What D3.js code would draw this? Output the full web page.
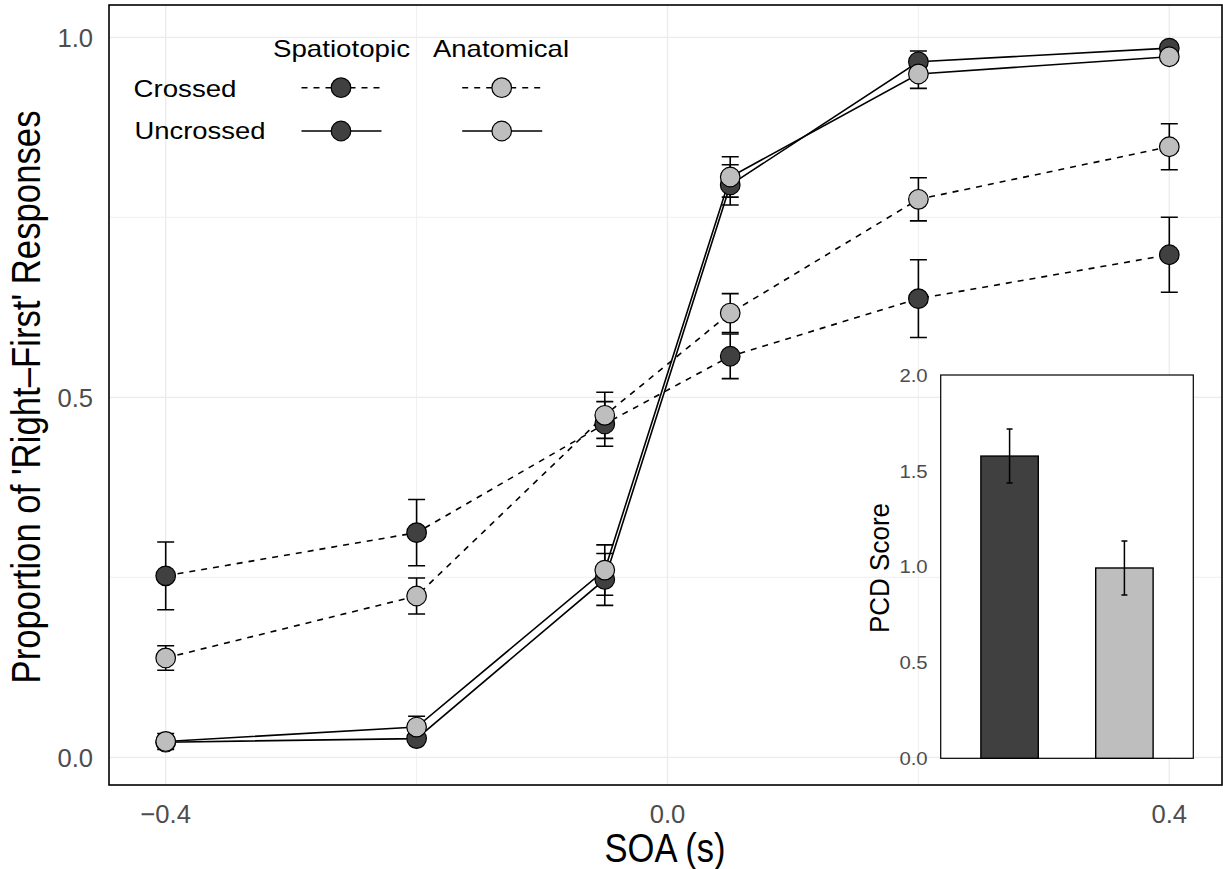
<!DOCTYPE html>
<html>
<head>
<meta charset="utf-8">
<script src="https://d3js.org/d3.v7.min.js"></script>
<style>
body { margin: 0; background: #fff; }
text { font-family: "Liberation Sans", Arial, Helvetica, sans-serif; }
.grid { stroke: #ebebeb; }
.tick-label { fill: #4d4d4d; }
</style>
</head>
<body>
<script>
// data
var soa = [-0.4, -0.2, -0.05, 0.05, 0.2, 0.4];
var spatCrossed     = [0.252, 0.312, 0.463, 0.557, 0.637, 0.698];
var spatCrossedSE   = [0.047, 0.046, 0.031, 0.031, 0.054, 0.052];
var anatCrossed     = [0.138, 0.224, 0.475, 0.617, 0.775, 0.848];
var anatCrossedSE   = [0.017, 0.025, 0.032, 0.027, 0.030, 0.032];
var spatUncrossed   = [0.021, 0.026, 0.247, 0.795, 0.966, 0.985];
var spatUncrossedSE = [0.005, 0.005, 0.036, 0.028, 0.015, 0.005];
var anatUncrossed   = [0.022, 0.042, 0.260, 0.806, 0.949, 0.973];
var anatUncrossedSE = [0.011, 0.015, 0.035, 0.028, 0.020, 0.005];

var xTicks = [-0.4, 0.0, 0.4];
var xGrid = [-0.4, -0.2, 0.0, 0.2, 0.4];
var yTicks = [0.0, 0.5, 1.0];
var yGrid = [0, 0.25, 0.5, 0.75, 1.0];

var pcdGroups = ["Spatiotopic", "Anatomical"];
var pcdScore = [1.577, 0.993];
var pcdSE = [0.141, 0.141];
var pcdTicks = [0, 0.5, 1.0, 1.5, 2.0];

var dark = "#404040", light = "#bebebe";

var series = [
  {name: "spatCrossed", y: spatCrossed, se: spatCrossedSE, fill: dark, dash: "6,6"},
  {name: "spatUncrossed", y: spatUncrossed, se: spatUncrossedSE, fill: dark, dash: null},
  {name: "anatCrossed", y: anatCrossed, se: anatCrossedSE, fill: light, dash: "6,6"},
  {name: "anatUncrossed", y: anatUncrossed, se: anatUncrossedSE, fill: light, dash: null}
];

var width = 1223, height = 869;
var panel = {left: 109, top: 5, right: 1222, bottom: 785};

var svg = d3.select("body").append("svg")
    .attr("width", width)
    .attr("height", height);

var x = d3.scaleLinear().domain([-0.4, 0.4]).range([165.7, 1169.3]);
var y = d3.scaleLinear().domain([0, 1]).range([757.3, 37.3]);

// grid
svg.append("g").selectAll("line").data(yGrid).enter().append("line")
    .attr("class", "grid")
    .attr("x1", panel.left).attr("x2", panel.right)
    .attr("y1", d => y(d)).attr("y2", d => y(d))
    .attr("stroke-width", d => (d * 2) % 1 === 0 ? 1.3 : 0.8);
svg.append("g").selectAll("line").data(xGrid).enter().append("line")
    .attr("class", "grid")
    .attr("y1", panel.top).attr("y2", panel.bottom)
    .attr("x1", d => x(d)).attr("x2", d => x(d))
    .attr("stroke-width", d => Math.abs(d) === 0.2 ? 0.8 : 1.3);

// axis labels
svg.append("g").selectAll("text").data(yTicks).enter().append("text")
    .attr("class", "tick-label")
    .attr("x", 93).attr("y", d => y(d))
    .attr("dy", "0.36em")
    .attr("text-anchor", "end")
    .style("font-size", "25.6px")
    .text(d => d3.format(".1f")(d));
svg.append("g").selectAll("text").data(xTicks).enter().append("text")
    .attr("class", "tick-label")
    .attr("x", d => x(d)).attr("y", 823.3)
    .attr("text-anchor", "middle")
    .style("font-size", "25.6px")
    .text(d => d3.format(".1f")(d).replace("-", "\u2212"));

svg.append("text")
    .attr("x", 665).attr("y", 861.7)
    .attr("text-anchor", "middle")
    .attr("textLength", 121).attr("lengthAdjust", "spacingAndGlyphs")
    .style("font-size", "40px")
    .text("SOA (s)");
svg.append("text")
    .attr("transform", "translate(40,397) rotate(-90)")
    .attr("text-anchor", "middle")
    .attr("textLength", 573).attr("lengthAdjust", "spacingAndGlyphs")
    .style("font-size", "40px")
    .text("Proportion of 'Right\u2013First' Responses");

// error bars
var capW = 8.5;
var eb = svg.append("g");
series.forEach(function(s) {
  soa.forEach(function(v, i) {
    var lo = y(s.y[i] - s.se[i]), hi = y(s.y[i] + s.se[i]), cx = x(v);
    eb.append("path")
      .attr("d", "M" + (cx - capW) + "," + hi + "H" + (cx + capW) +
                 "M" + cx + "," + hi + "V" + lo +
                 "M" + (cx - capW) + "," + lo + "H" + (cx + capW))
      .attr("fill", "none").attr("stroke", "#000").attr("stroke-width", 1.6);
  });
});

// lines
var line = d3.line().x((d, i) => x(soa[i])).y(d => y(d));
svg.append("g").selectAll("path").data(series).enter().append("path")
    .attr("d", d => line(d.y))
    .attr("fill", "none")
    .attr("stroke", "#000")
    .attr("stroke-width", 1.6)
    .attr("stroke-dasharray", d => d.dash);

// points
series.forEach(function(s) {
  svg.append("g").selectAll("circle").data(s.y).enter().append("circle")
    .attr("cx", (d, i) => x(soa[i]))
    .attr("cy", d => y(d))
    .attr("r", 9.8)
    .attr("fill", s.fill)
    .attr("stroke", "#000")
    .attr("stroke-width", 1.2);
});

// panel border
svg.append("rect")
    .attr("x", panel.left).attr("y", panel.top)
    .attr("width", panel.right - panel.left).attr("height", panel.bottom - panel.top)
    .attr("fill", "none").attr("stroke", "#000").attr("stroke-width", 1.6);

// legend
var leg = svg.append("g");
leg.append("text").attr("x", 341.5).attr("y", 56.7).attr("text-anchor", "middle")
    .attr("textLength", 137).attr("lengthAdjust", "spacingAndGlyphs")
    .style("font-size", "24px").text("Spatiotopic");
leg.append("text").attr("x", 501).attr("y", 56.7).attr("text-anchor", "middle")
    .attr("textLength", 136).attr("lengthAdjust", "spacingAndGlyphs")
    .style("font-size", "24px").text("Anatomical");
leg.append("text").attr("x", 133.5).attr("y", 97.3)
    .attr("textLength", 103).attr("lengthAdjust", "spacingAndGlyphs")
    .style("font-size", "24px").text("Crossed");
leg.append("text").attr("x", 134.5).attr("y", 139)
    .attr("textLength", 131).attr("lengthAdjust", "spacingAndGlyphs")
    .style("font-size", "24px").text("Uncrossed");

var keyCols = [341, 501.7], keyRows = [87.7, 131];
var keys = [
  {col: 0, row: 0, s: series[0]}, {col: 1, row: 0, s: series[2]},
  {col: 0, row: 1, s: series[1]}, {col: 1, row: 1, s: series[3]}
];
keys.forEach(function(k) {
  var cx = keyCols[k.col], cy = keyRows[k.row];
  leg.append("line")
    .attr("x1", cx - 39.5).attr("x2", cx + 40.5).attr("y1", cy).attr("y2", cy)
    .attr("stroke", "#000").attr("stroke-width", 1.6)
    .attr("stroke-dasharray", k.s.dash);
  leg.append("circle").attr("cx", cx).attr("cy", cy).attr("r", 9.8)
    .attr("fill", k.s.fill).attr("stroke", "#000").attr("stroke-width", 1.2);
});

// inset bar chart
var inset = {left: 940.7, top: 375, right: 1193.3, bottom: 758.3};
var xb = d3.scalePoint().domain(pcdGroups).range([inset.left, inset.right]).padding(0.6);
var yb = d3.scaleLinear().domain([0, 2]).range([inset.bottom, inset.top]);
var barW = xb.step() * 0.5;

var ins = svg.append("g");
ins.append("rect")
    .attr("x", inset.left).attr("y", inset.top)
    .attr("width", inset.right - inset.left).attr("height", inset.bottom - inset.top)
    .attr("fill", "#fff").attr("stroke", "#000").attr("stroke-width", 1.2);

ins.selectAll("rect.bar").data(pcdGroups).enter().append("rect")
    .attr("class", "bar")
    .attr("x", d => xb(d) - barW / 2)
    .attr("y", (d, i) => yb(pcdScore[i]))
    .attr("width", barW)
    .attr("height", (d, i) => yb(0) - yb(pcdScore[i]))
    .attr("fill", (d, i) => i === 0 ? dark : light)
    .attr("stroke", "#000").attr("stroke-width", 1.4);

ins.selectAll("path.err").data(pcdGroups).enter().append("path")
    .attr("class", "err")
    .attr("d", function(d, i) {
      var cx = xb(d), hi = yb(pcdScore[i] + pcdSE[i]), lo = yb(pcdScore[i] - pcdSE[i]);
      return "M" + (cx - 3) + "," + hi + "H" + (cx + 3) + "M" + cx + "," + hi + "V" + lo +
             "M" + (cx - 3) + "," + lo + "H" + (cx + 3);
    })
    .attr("fill", "none").attr("stroke", "#000").attr("stroke-width", 1.5);

ins.selectAll("text.tick").data(pcdTicks).enter().append("text")
    .attr("class", "tick-label")
    .attr("x", 927.7).attr("y", d => yb(d))
    .attr("dy", "0.36em")
    .attr("text-anchor", "end")
    .attr("textLength", 28.3).attr("lengthAdjust", "spacingAndGlyphs")
    .style("font-size", "19px")
    .text(d => d3.format(".1f")(d));

ins.append("text")
    .attr("transform", "translate(888.5,568) rotate(-90)")
    .attr("text-anchor", "middle")
    .attr("textLength", 130).attr("lengthAdjust", "spacingAndGlyphs")
    .style("font-size", "27px")
    .text("PCD Score");
</script>
</body>
</html>
